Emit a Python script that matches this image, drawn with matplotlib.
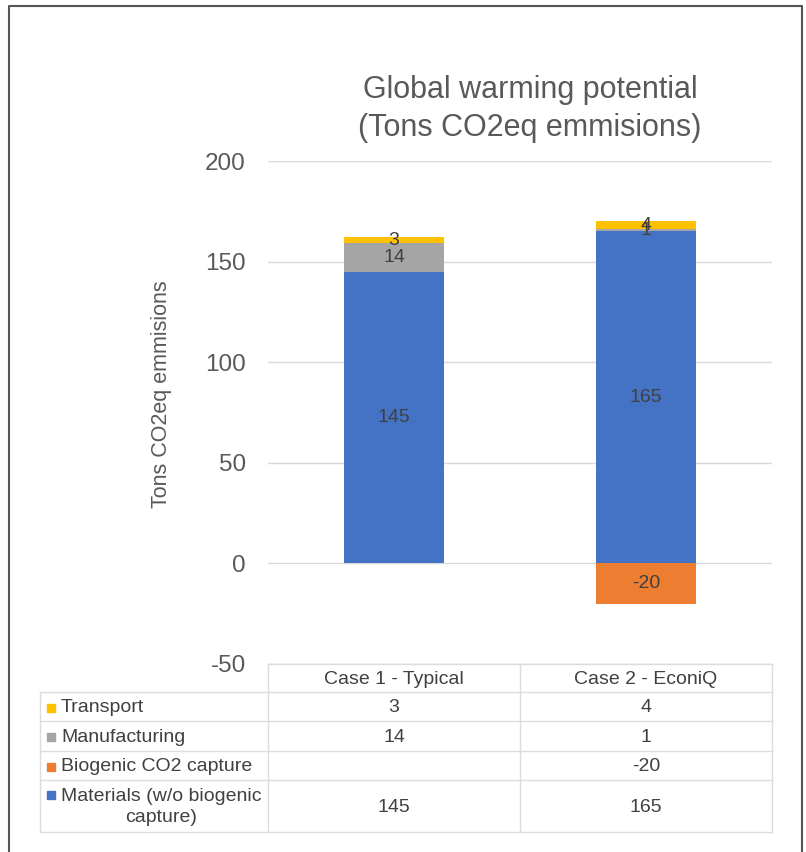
"""Global warming potential - stacked bars with data table"""

import matplotlib
matplotlib.use('Agg')
import matplotlib.pyplot as plt
import numpy as np

plt.rcParams['font.family'] = ['Liberation Sans', 'DejaVu Sans']

# Data
cases = ['Case 1 - Typical', 'Case 2 - EconiQ']
series_names = ['Transport', 'Manufacturing', 'Biogenic CO2 capture',
                'Materials (w/o biogenic\ncapture)']
transport = [3, 4]
manufacturing = [14, 1]
biogenic = [None, -20]
materials = [145, 165]
yticks = [-50, 0, 50, 100, 150, 200]

colors = {
    'Transport': '#FFC000',
    'Manufacturing': '#A5A5A5',
    'Biogenic': '#ED7D31',
    'Materials': '#4472C4',
}
text_dark = '#404040'
text_mid = '#595959'
grid_col = '#D9D9D9'

W, H = 806, 852
fig = plt.figure(figsize=(W / 100, H / 100), dpi=100)


def fx(x):
    return x / W


def fy(y):
    return 1 - y / H


# Plot area (pixel box: x 268..772, y 161..664)
ax = fig.add_axes([fx(268), fy(664), fx(772) - fx(268), fy(161) - fy(664)])
x = np.arange(len(cases))
width = 0.397

bio_vals = [v if v is not None else 0 for v in biogenic]
b_mat = ax.bar(x, materials, width, color=colors['Materials'], zorder=3)
b_man = ax.bar(x, manufacturing, width, bottom=materials,
               color=colors['Manufacturing'], zorder=3)
top2 = [m + n for m, n in zip(materials, manufacturing)]
b_tr = ax.bar(x, transport, width, bottom=top2, color=colors['Transport'], zorder=3)
b_bio = ax.bar(x, bio_vals, width, color=colors['Biogenic'], zorder=3)

for bars, vals in [(b_mat, materials), (b_man, manufacturing),
                   (b_tr, transport), (b_bio, biogenic)]:
    labels = ['' if v is None else str(v) for v in vals]
    ax.bar_label(bars, labels=labels, label_type='center',
                 fontsize=14, color=text_dark, zorder=4)

ax.set_xlim(-0.5, len(cases) - 0.5)
ax.set_ylim(-50, 200)
ax.set_yticks(yticks)
ax.set_yticklabels([str(t) for t in yticks], fontsize=17.5, color=text_mid)
ax.tick_params(axis='y', length=0, pad=16)
ax.set_xticks([])
ax.yaxis.grid(True, color=grid_col, lw=1, zorder=0)
for s in ax.spines.values():
    s.set_visible(False)
ax.patch.set_alpha(0)

fig.text(fx(161), fy(394), 'Tons CO2eq emmisions', rotation=90,
         ha='center', va='center', fontsize=15.5, color=text_mid)

fig.text(fx(530), fy(109), 'Global warming potential\n(Tons CO2eq emmisions)',
         ha='center', va='center', fontsize=22, color=text_mid, linespacing=1.32)

# Overlay for table and frame, in pixel coordinates
ov = fig.add_axes([0, 0, 1, 1])
ov.set_xlim(0, W)
ov.set_ylim(H, 0)
ov.axis('off')
ov.patch.set_alpha(0)

# frame around the picture
ov.plot([9, 9, 802, 802], [H, 6, 6, H], color='#555555', lw=1.5)

col_x = [40, 268, 520, 772]
row_y = [664, 692, 721, 751, 780, 832]
line_kw = dict(color='#DCDCDC', lw=1)

ov.plot([col_x[1], col_x[3]], [row_y[0], row_y[0]], **line_kw)
for yy in row_y[1:]:
    ov.plot([col_x[0], col_x[3]], [yy, yy], **line_kw)
for xx in col_x[1:]:
    ov.plot([xx, xx], [row_y[0], row_y[-1]], **line_kw)
ov.plot([col_x[0], col_x[0]], [row_y[1], row_y[-1]], **line_kw)

for j, c in enumerate(cases):
    cx = (col_x[j + 1] + col_x[j + 2]) / 2
    ov.text(cx, (row_y[0] + row_y[1]) / 2 + 1, c, ha='center', va='center',
            fontsize=14, color=text_dark)

rows = [
    (series_names[0], colors['Transport'], transport),
    (series_names[1], colors['Manufacturing'], manufacturing),
    (series_names[2], colors['Biogenic'], biogenic),
    (series_names[3], colors['Materials'], materials),
]
for i, (name, col, vals) in enumerate(rows):
    y0, y1 = row_y[i + 1], row_y[i + 2]
    cy = (y0 + y1) / 2 + 1
    if '\n' in name:
        ov.text(61, cy, name, ha='left', va='center', fontsize=14,
                color=text_dark, multialignment='center', linespacing=1.25)
        sq_y = cy - 12
    else:
        ov.text(61, cy, name, ha='left', va='center', fontsize=14, color=text_dark)
        sq_y = cy
    ov.add_patch(plt.Rectangle((47, sq_y - 4), 8, 8, color=col))
    for j, v in enumerate(vals):
        if v is None:
            continue
        cx = (col_x[j + 1] + col_x[j + 2]) / 2
        ov.text(cx, cy, str(v), ha='center', va='center', fontsize=14, color=text_dark)

fig.savefig('out.png', dpi=100, facecolor='white')
